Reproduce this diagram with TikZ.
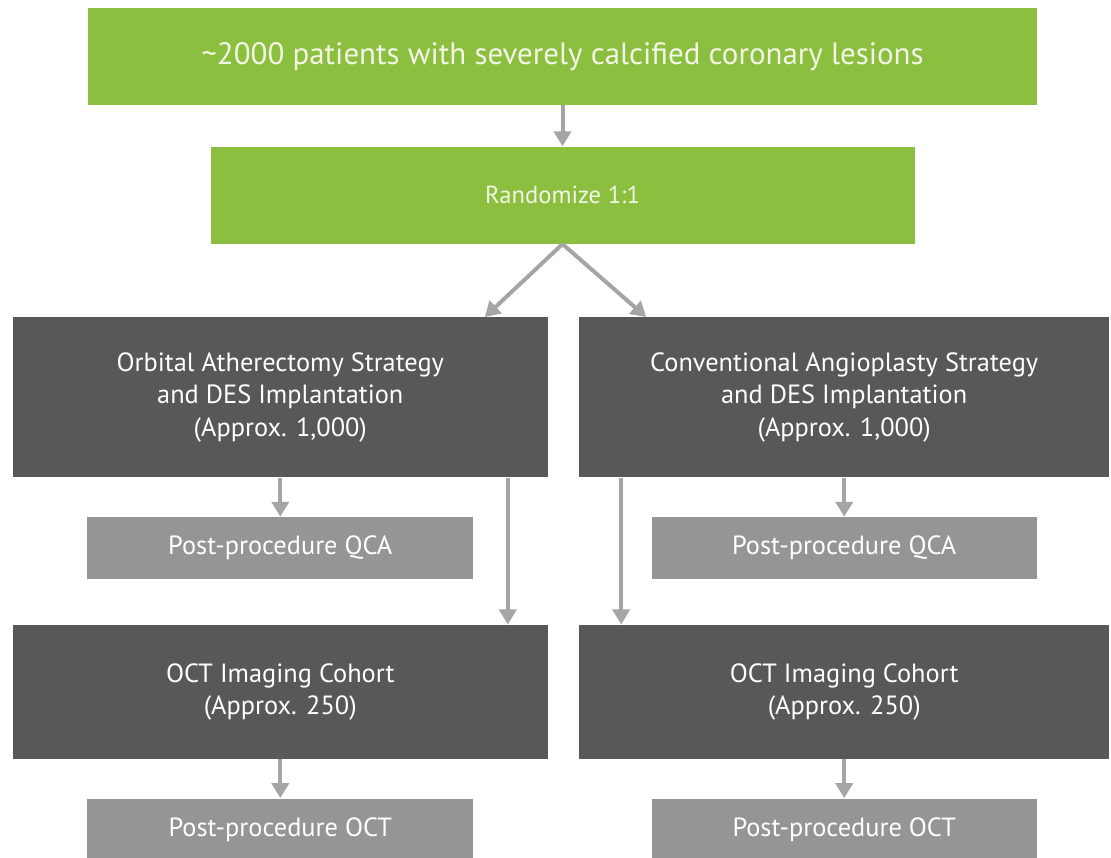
\documentclass[tikz,border=0pt]{standalone}
\usepackage{fontspec}
\setmainfont{PT Sans}
\usepackage{xcolor}
\usetikzlibrary{arrows.meta, positioning}
\definecolor{trialgreen}{HTML}{8CBE40}
\definecolor{armgray}{HTML}{58585A}
\definecolor{stepgray}{HTML}{939597}
\definecolor{linkgray}{HTML}{A5A5A7}
\definecolor{paletext}{HTML}{F2F6E4}
\tikzstyle{greenbox} = [rectangle, minimum height=1.94cm, text centered, fill=trialgreen, text=paletext, inner sep=0pt]
\tikzstyle{armbox} = [rectangle, minimum width=10.7cm, text centered, align=center, fill=armgray, text=white, inner sep=0pt, font=\fontsize{15}{18.5}\selectfont]
\tikzstyle{stepbox} = [rectangle, minimum width=7.72cm, minimum height=1.24cm, text centered, fill=stepgray, text=white, inner sep=0pt, font=\fontsize{15}{18.5}\selectfont]
\tikzstyle{arrow} = [line width=0.08cm, draw=linkgray, -{Triangle[width=0.34cm, length=0.3cm]}]

\begin{document}
\begin{tikzpicture}
    \useasboundingbox (0,0) rectangle (22.22,-17.14);
    % Nodes
    \node (patients) [greenbox, minimum width=18.98cm, font=\fontsize{17.6}{21}\selectfont] at (11.25,-1.13) {\textasciitilde 2000 patients with severely calcified coronary lesions};
    \node (rand) [greenbox, minimum width=14.08cm, below=0.82cm of patients, font=\fontsize{14}{17}\selectfont] {Randomize 1:1};

    \node (orbital) [armbox, minimum height=3.2cm, below left=1.46cm and -6.76cm of rand] {Orbital Atherectomy Strategy\\and DES Implantation\\(Approx. 1,000)};
    \node (conv) [armbox, minimum width=10.6cm, minimum height=3.2cm, below right=1.46cm and -6.72cm of rand] {Conventional Angioplasty Strategy\\and DES Implantation\\(Approx. 1,000)};

    \node (qcaL) [stepbox, below=0.78cm of orbital] {Post-procedure QCA};
    \node (qcaR) [stepbox, minimum width=7.7cm, below=0.78cm of conv] {Post-procedure QCA};

    \node (octL) [armbox, minimum height=2.68cm, below=0.9cm of qcaL] {OCT Imaging Cohort\\(Approx. 250)};
    \node (octR) [armbox, minimum width=10.6cm, minimum height=2.68cm, below=0.9cm of qcaR] {OCT Imaging Cohort\\(Approx. 250)};

    \node (postL) [stepbox, below=0.78cm of octL] {Post-procedure OCT};
    \node (postR) [stepbox, minimum width=7.7cm, below=0.78cm of octR] {Post-procedure OCT};

    % Arrows
    \draw [arrow] (patients) -- (rand);
    \draw [arrow] (rand.south) -- ([xshift=4.09cm]orbital.north);
    \draw [arrow] (rand.south) -- ([xshift=-3.96cm]conv.north);

    \draw [arrow] (orbital) -- (qcaL);
    \draw [arrow] (conv) -- (qcaR);
    \draw [arrow] ([xshift=4.55cm]orbital.south) -- ([xshift=4.55cm]octL.north);
    \draw [arrow] ([xshift=-4.46cm]conv.south) -- ([xshift=-4.46cm]octR.north);

    \draw [arrow] (octL) -- (postL);
    \draw [arrow] (octR) -- (postR);
\end{tikzpicture}
\end{document}
